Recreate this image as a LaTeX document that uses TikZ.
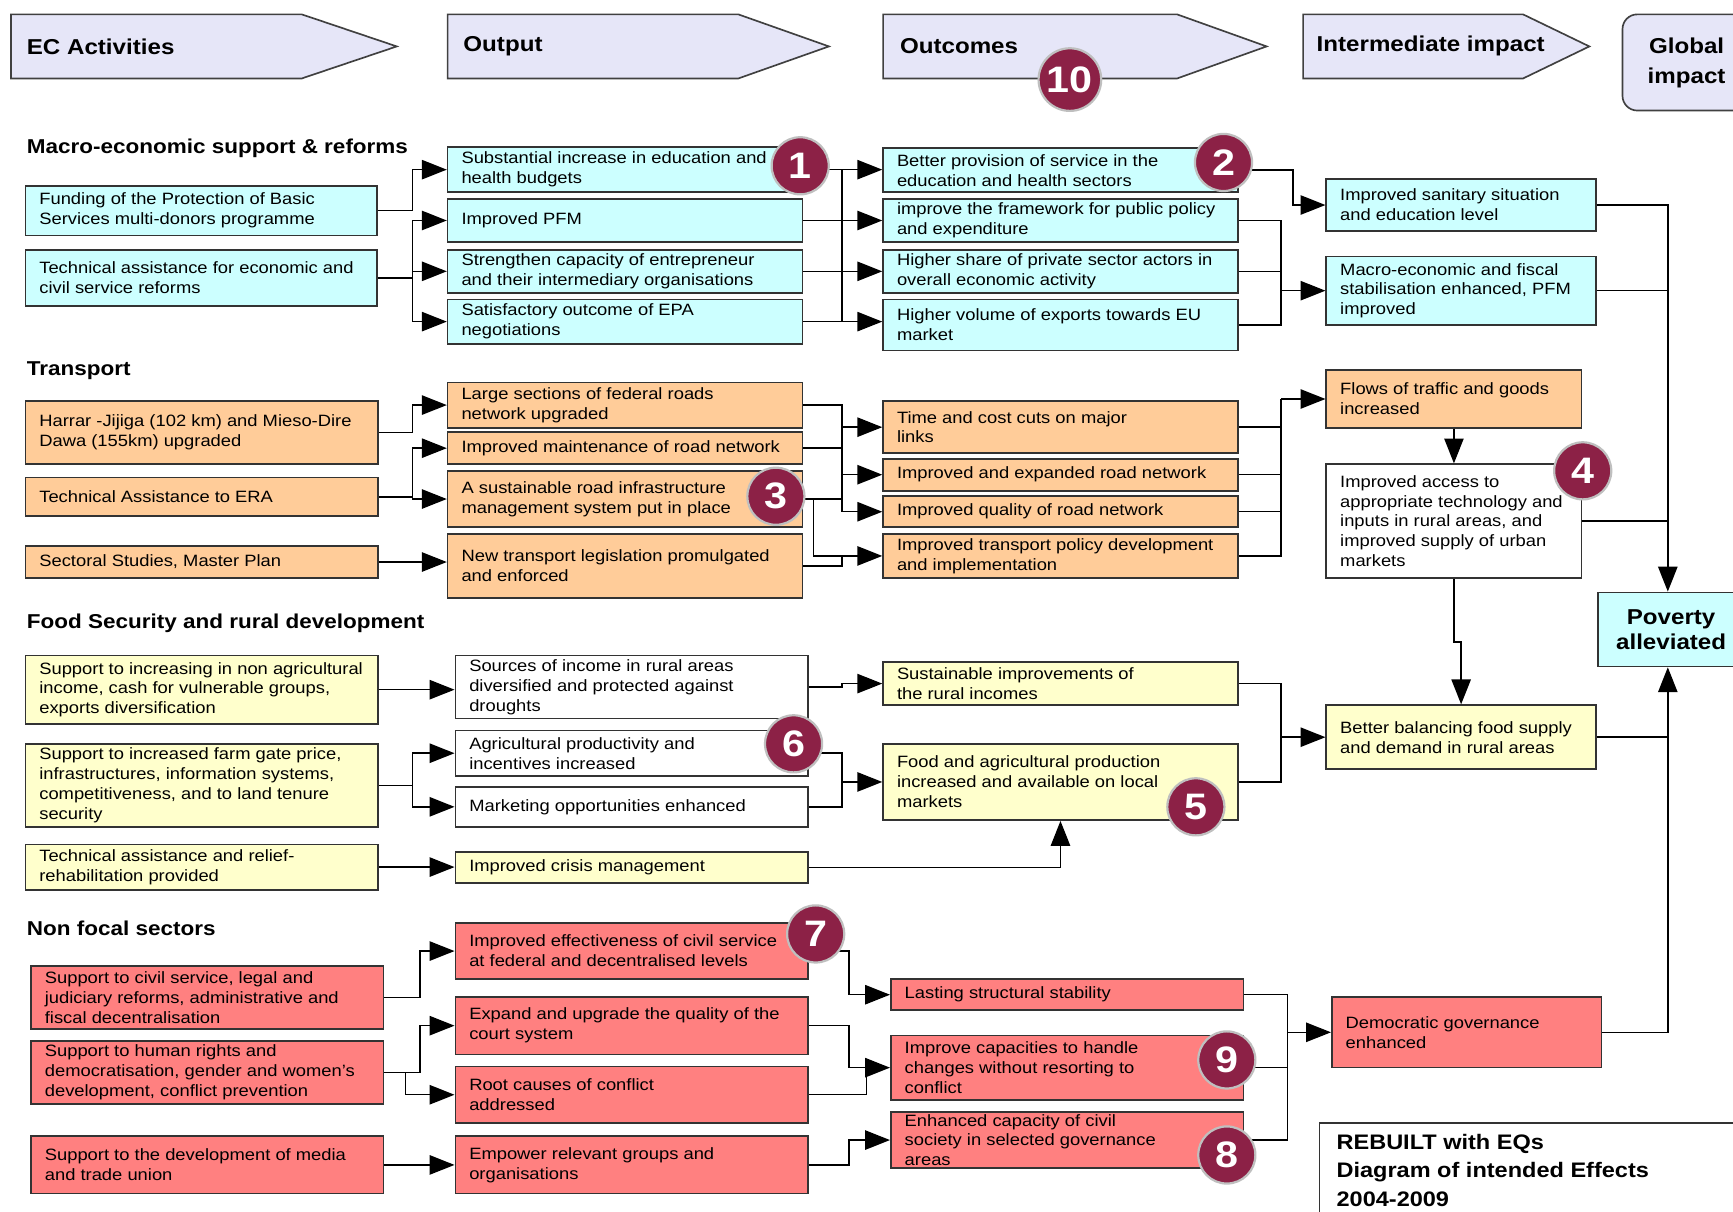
\documentclass[tikz,border=0pt]{standalone}
\usepackage{fontspec}
\setmainfont{Liberation Sans}[FakeStretch=1.12]
\usetikzlibrary{arrows.meta,calc}
\definecolor{cyanbox}{HTML}{CCFFFF}
\definecolor{orangebox}{HTML}{FFCC99}
\definecolor{yellowbox}{HTML}{FFFFCC}
\definecolor{redbox}{HTML}{FF8080}
\definecolor{headbox}{HTML}{E6E6F8}
\definecolor{badgecol}{HTML}{8C2146}
\newcommand\boxfont{\fontsize{8.9pt}{10.8pt}\selectfont}
\newcommand\sectfont{\fontsize{10.9pt}{12pt}\selectfont\bfseries}
\newcommand\headfont{\fontsize{11.7pt}{14pt}\selectfont\bfseries}
\newcommand\glfont{\fontsize{11.7pt}{16.2pt}\selectfont\bfseries}
\newcommand\pvfont{\fontsize{11.7pt}{13.8pt}\selectfont\bfseries}
\newcommand\badgefont{\fontsize{20pt}{22pt}\selectfont\bfseries}
\newcommand\rebfont{\fontsize{11.4pt}{15.6pt}\selectfont\bfseries}
\newcommand\mkbox[7][]{%
  \pgfmathsetmacro\mkw{(#5-#3)*0.6}%
  \pgfmathsetmacro\mkh{(#6-#4)*0.6}%
  \node[boxstyle,#1,minimum width=\mkw pt,minimum height=\mkh pt] (#2) at ({(#3+#5)/2},{(#4+#6)/2}) {};%
  \node[boxtext] (#2-t) at ([xshift=7.8pt]#2.west) {#7};%
}
\begin{document}
\begin{tikzpicture}[x=0.6pt,y=-0.6pt,
  boxstyle/.style={draw=black!80,line width=0.9pt,inner sep=0pt,rectangle},
  boxtext/.style={anchor=west,align=left,inner sep=0pt,font=\boxfont},
  arr/.style={draw=black,line width=0.8pt,-{Triangle[length=13.5pt,width=10.5pt]}},
  ln/.style={draw=black,line width=0.8pt},
  badge/.style={circle,fill=badgecol,draw=black!25,line width=1.2pt,text=white,font=\badgefont,minimum size=31pt,inner sep=0pt},
  sect/.style={anchor=west,font=\sectfont,inner sep=0pt},
  head/.style={fill=headbox,draw=black!75,line width=0.9pt},
  headtext/.style={anchor=west,font=\headfont,inner sep=0pt},
]
\useasboundingbox (0,0) rectangle (1568,1096);
\clip (0,0) rectangle (1568,1096);
\fill[white] (0,0) rectangle (1568,1096);

% ---------- headers
\draw[head] (10,13) -- (273,13) -- (359,42) -- (273,71) -- (10,71) -- cycle;
\node[headtext] (hEC) at (24,42) {EC Activities};
\draw[head] (405,13) -- (668,13) -- (750,42) -- (668,71) -- (405,71) -- cycle;
\node[headtext] (hOut) at (419,42) {Output};
\draw[head] (799,13) -- (1065,13) -- (1146,42) -- (1065,71) -- (799,71) -- cycle;
\node[headtext] (hOc) at (814,42) {Outcomes};
\draw[head] (1179,13) -- (1378,13) -- (1438,42) -- (1378,71) -- (1179,71) -- cycle;
\node[headtext] (hInt) at (1191,42) {Intermediate impact};
\draw[head,rounded corners=8pt] (1468,13) rectangle (1620,100);
\node[font=\glfont,align=center,inner sep=0pt] (hGl) at (1526,57) {Global\\impact};

% ---------- section titles
\node[sect] (s1) at (24,134) {Macro-economic support \& reforms};
\node[sect] (s2) at (24,335) {Transport};
\node[sect] (s3) at (24,564) {Food Security and rural development};
\node[sect] (s4) at (24,840) {Non focal sectors};

% ---------- macro-economic
\mkbox[fill=cyanbox]{A1}{23}{168}{341}{213}{Funding of the Protection of Basic\\Services multi-donors programme}
\mkbox[fill=cyanbox]{A2}{23}{226}{341}{277}{Technical assistance for economic and\\civil service reforms}
\mkbox[fill=cyanbox]{O1}{405}{133}{726}{174}{Substantial increase in education and\\health budgets}
\mkbox[fill=cyanbox]{O2}{405}{180}{726}{219}{Improved PFM}
\mkbox[fill=cyanbox]{O3}{405}{226}{726}{265}{Strengthen capacity of entrepreneur\\and their intermediary organisations}
\mkbox[fill=cyanbox]{O4}{405}{271}{726}{311}{Satisfactory outcome of EPA\\negotiations}
\mkbox[fill=cyanbox]{C1}{799}{134}{1120}{174}{Better provision of service in the\\education and health sectors}
\mkbox[fill=cyanbox]{C2}{799}{180}{1120}{219}{improve the framework for public policy\\and expenditure}
\mkbox[fill=cyanbox]{C3}{799}{226}{1120}{265}{Higher share of private sector actors in\\overall economic activity}
\mkbox[fill=cyanbox]{C4}{799}{271}{1120}{317}{Higher volume of exports towards EU\\market}
\mkbox[fill=cyanbox]{I1}{1200}{162}{1444}{209}{Improved sanitary situation\\and education level}
\mkbox[fill=cyanbox]{I2}{1200}{232}{1444}{294}{Macro-economic and fiscal\\stabilisation enhanced, PFM\\improved}

% ---------- transport
\mkbox[fill=orangebox]{T1}{23}{363}{342}{420}{Harrar -Jijiga (102 km) and Mieso-Dire\\Dawa (155km) upgraded}
\mkbox[fill=orangebox]{T2}{23}{432}{342}{467}{Technical Assistance to ERA}
\mkbox[fill=orangebox]{T3}{23}{494}{342}{523}{Sectoral Studies, Master Plan}
\mkbox[fill=orangebox]{TO1}{405}{346}{726}{387}{Large sections of federal roads\\network upgraded}
\mkbox[fill=orangebox]{TO2}{405}{391}{726}{420}{Improved maintenance of road network}
\mkbox[fill=orangebox]{TO3}{405}{426}{726}{477}{A sustainable road infrastructure\\management system put in place}
\mkbox[fill=orangebox]{TO4}{405}{483}{726}{541}{New transport legislation promulgated\\and enforced}
\mkbox[fill=orangebox]{TC1}{799}{363}{1120}{410}{Time and cost cuts on major\\links}
\mkbox[fill=orangebox]{TC2}{799}{415}{1120}{444}{Improved and expanded road network}
\mkbox[fill=orangebox]{TC3}{799}{449}{1120}{477}{Improved quality of road network}
\mkbox[fill=orangebox]{TC4}{799}{483}{1120}{523}{Improved transport policy development\\and implementation}
\mkbox[fill=orangebox]{TF}{1200}{335}{1431}{387}{Flows of traffic and goods\\increased}
\mkbox[fill=white]{TA}{1200}{420}{1431}{523}{Improved access to\\appropriate technology and\\inputs in rural areas, and\\improved supply of urban\\markets}

% ---------- food security
\mkbox[fill=yellowbox]{F1}{23}{593}{342}{655}{Support to increasing in non agricultural\\income, cash for vulnerable groups,\\exports diversification}
\mkbox[fill=yellowbox]{F2}{23}{673}{342}{748}{Support to increased farm gate price,\\infrastructures, information systems,\\competitiveness, and to land tenure\\security}
\mkbox[fill=yellowbox]{F3}{23}{764}{342}{805}{Technical assistance and relief-\\rehabilitation provided}
\mkbox[fill=white]{FO1}{412}{593}{731}{650}{Sources of income in rural areas\\diversified and protected against\\droughts}
\mkbox[fill=white]{FO2}{412}{661}{731}{702}{Agricultural productivity and\\incentives increased}
\mkbox[fill=white]{FO3}{412}{712}{731}{748}{Marketing opportunities enhanced}
\mkbox[fill=yellowbox]{FO4}{412}{771}{731}{799}{Improved crisis management}
\mkbox[fill=yellowbox]{FC1}{799}{599}{1120}{638}{Sustainable improvements of\\the rural incomes}
\mkbox[fill=yellowbox]{FC2}{799}{673}{1120}{742}{Food and agricultural production\\increased and available on local\\markets}
\mkbox[fill=yellowbox]{FB}{1200}{638}{1444}{696}{Better balancing food supply\\and demand in rural areas}

% ---------- non focal
\mkbox[fill=redbox]{N1}{28}{874}{347}{931}{Support to civil service, legal and\\judiciary reforms, administrative and\\fiscal decentralisation}
\mkbox[fill=redbox]{N2}{28}{942}{347}{999}{Support to human rights and\\democratisation, gender and women's\\development, conflict prevention}
\mkbox[fill=redbox]{N3}{28}{1028}{347}{1080}{Support to the development of media\\and trade union}
\mkbox[fill=redbox]{NO1}{412}{835}{731}{886}{Improved effectiveness of civil service\\at federal and decentralised levels}
\mkbox[fill=redbox]{NO2}{412}{902}{731}{954}{Expand and upgrade the quality of the\\court system}
\mkbox[fill=redbox]{NO3}{412}{965}{731}{1016}{Root causes of conflict\\addressed}
\mkbox[fill=redbox]{NO4}{412}{1028}{731}{1080}{Empower relevant groups and\\organisations}
\mkbox[fill=redbox]{NC1}{806}{886}{1125}{914}{Lasting structural stability}
\mkbox[fill=redbox]{NC2}{806}{937}{1125}{995}{Improve capacities to handle\\changes without resorting to\\conflict}
\mkbox[fill=redbox]{NC3}{806}{1006}{1125}{1057}{Enhanced capacity of civil\\society in selected governance\\areas}
\mkbox[fill=redbox]{ND}{1205}{902}{1449}{966}{Democratic governance\\enhanced}

% ---------- global
\node[boxstyle,fill=cyanbox,minimum width=79.2pt,minimum height=40.2pt,font=\pvfont,align=center] (PV) at (1512,569.5) {Poverty\\alleviated};

% ---------- bus coordinates
\coordinate (m1) at (373,0);
\coordinate (m2) at (762,0);
\coordinate (m3) at (1170,0);
\coordinate (m4) at (1159,0);
\coordinate (m5) at (736,0);
\coordinate (m6) at (380,0);
\coordinate (m7) at (367,0);
\coordinate (m8) at (768,0);
\coordinate (m9) at (784,0);
\coordinate (m10) at (1165,0);
\coordinate (bus) at (1509,0);

% ---------- macro connectors
\draw[arr] (A1.east) -- (A1.east -| m1) |- (O1.west);
\draw[arr] (A2.east) -- (A2.east -| m1) |- (O2.west);
\draw[arr] (A2.east -| m1) |- (O3.west);
\draw[arr] (A2.east -| m1) |- (O4.west);
\draw[arr] (O1.east) -- (O1.east -| C1.west);
\draw[arr] (O2.east) -- (O2.east -| C2.west);
\draw[arr] (O3.east) -- (O3.east -| C3.west);
\draw[arr] (O4.east) -- (O4.east -| C4.west);
\draw[ln] (O1.east -| m2) -- (O4.east -| m2);
\draw[arr] (C1.east) -- (C1.east -| m3) |- (I1.west);
\draw[ln] (C2.east) -- (C2.east -| m4) -- (C4.east -| m4) -- (C4.east);
\draw[ln] (C3.east) -- (C3.east -| m4);
\draw[arr] (I2.west -| m4) -- (I2.west);
\draw[arr] (I1.east) -| (PV.north -| bus);
\draw[ln] (I2.east) -- (I2.east -| bus);

% ---------- transport connectors
\draw[arr] (T1.east) -- (T1.east -| m1) |- (TO1.west);
\draw[arr] (T2.east) -- (T2.east -| m1) |- (TO2.west);
\draw[arr] (T2.east -| m1) |- (TO3.west);
\draw[arr] (T3.east) -- (T3.east -| TO4.west);
\draw[ln] (TO1.east) -- (TO1.east -| m2) -- (TC3.west -| m2);
\draw[ln] (TO2.east) -- (TO2.east -| m2);
\draw[ln] (TO3.east) -- (TO3.east -| m2);
\draw[arr] (TC1.west -| m2) -- (TC1.west);
\draw[arr] (TC2.west -| m2) -- (TC2.west);
\draw[arr] (TC3.west -| m2) -- (TC3.west);
\draw[arr] (TO3.east -| m5) |- (TC4.west);
\draw[ln] (TO4.east) -- (TO4.east -| m2) -- (TC4.west -| m2);
\draw[ln] (TC1.east) -- (TC1.east -| m4);
\draw[ln] (TC2.east) -- (TC2.east -| m4);
\draw[ln] (TC3.east) -- (TC3.east -| m4);
\draw[ln] (TC4.east) -- (TC4.east -| m4) -- (TF.west -| m4);
\draw[arr] (TF.west -| m4) -- (TF.west);
\draw[arr] (TF.south) -- (TA.north);
\draw[ln] (TA.east) -- (TA.east -| bus);
\draw[arr] (TA.south) -- ++(0,57) -| (FB.north);

% ---------- food connectors
\draw[arr] (F1.east) -- (F1.east -| FO1.west);
\draw[arr] (F2.east) -- (F2.east -| m1) |- (FO2.west);
\draw[arr] (F2.east -| m1) |- (FO3.west);
\draw[arr] (F3.east) -- (F3.east -| FO4.west);
\draw[arr] (FO1.east) -- (FO1.east -| m2) |- (FC1.west);
\draw[ln] (FO2.east) -- (FO2.east -| m2) -- (FO3.east -| m2) -- (FO3.east);
\draw[arr] (FC2.west -| m2) -- (FC2.west);
\draw[arr] (FO4.east) -| (FC2.south);
\draw[ln] (FC1.east) -- (FC1.east -| m4) -- (FC2.east -| m4) -- (FC2.east);
\draw[arr] (FB.west -| m4) -- (FB.west);
\draw[ln] (FB.east) -- (FB.east -| bus);

% ---------- non focal connectors
\draw[arr] (N1.east) -- (N1.east -| m6) |- (NO1.west);
\draw[arr] (N2.east) -- (N2.east -| m6) |- (NO2.west);
\draw[arr] (N2.east -| m7) |- (NO3.west);
\draw[arr] (N3.east) -- (N3.east -| NO4.west);
\draw[arr] (NO1.east) -- (NO1.east -| m8) |- (NC1.west);
\draw[arr] (NO2.east) -- (NO2.east -| m8) |- (NC2.west);
\draw[ln] (NO3.east) -- (NO3.east -| m9) -- (NC2.west -| m9);
\draw[arr] (NO4.east) -- (NO4.east -| m8) |- (NC3.west);
\draw[ln] (NC1.east) -- (NC1.east -| m10) -- (NC3.east -| m10) -- (NC3.east);
\draw[ln] (NC2.east) -- (NC2.east -| m10);
\draw[arr] (ND.west -| m10) -- (ND.west);
\draw[arr] (ND.east) -| (PV.south -| bus);

% ---------- legend box
\draw[draw=black!80,line width=0.9pt,fill=white] (1194,1016) rectangle (1640,1140);
\node[anchor=west,font=\rebfont,align=left,inner sep=0pt] (reb) at (1209,1059) {REBUILT with EQs\\Diagram of intended Effects\\2004-2009};

% ---------- badges
\node[badge,minimum size=34pt] (b10) at (968,72) {10};
\node[badge] (b1) at (724,150) {1};
\node[badge] (b2) at (1107,147) {2};
\node[badge] (b3) at (702,449) {3};
\node[badge] (b4) at (1432,426) {4};
\node[badge] (b5) at (1082,730) {5};
\node[badge] (b6) at (718,673) {6};
\node[badge] (b7) at (738,845) {7};
\node[badge] (b8) at (1110,1045) {8};
\node[badge] (b9) at (1110,959) {9};
\end{tikzpicture}
\end{document}
